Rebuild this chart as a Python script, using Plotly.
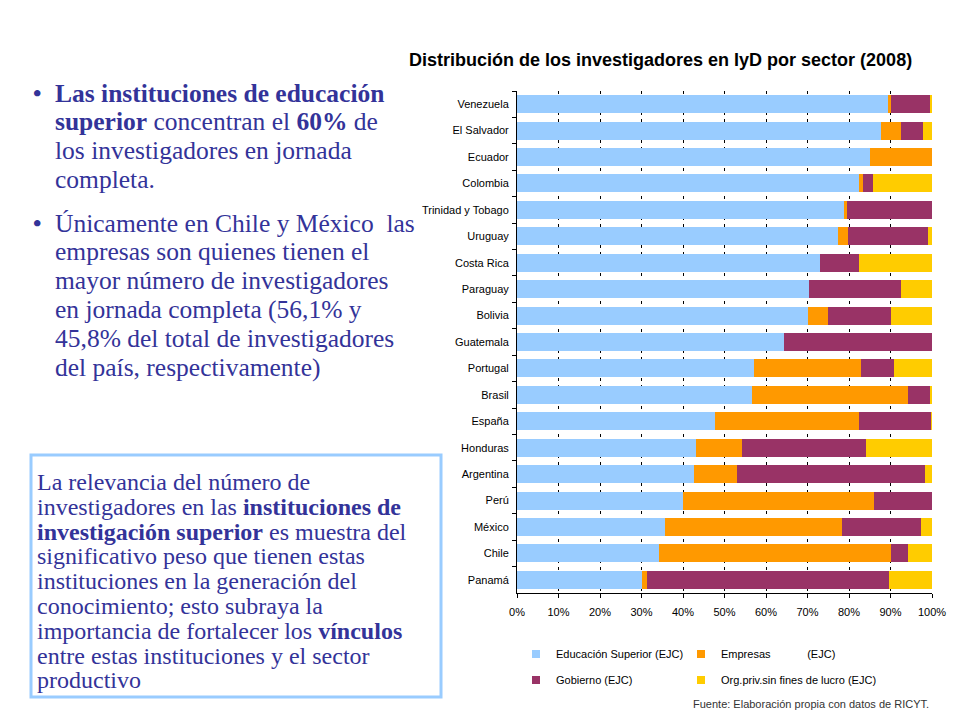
import plotly.graph_objects as go

# --- data (percent of researchers, 2008) ---
countries = [
    "Venezuela", "El Salvador", "Ecuador", "Colombia", "Trinidad y Tobago",
    "Uruguay", "Costa Rica", "Paraguay", "Bolivia", "Guatemala", "Portugal",
    "Brasil", "España", "Honduras", "Argentina", "Perú", "México", "Chile",
    "Panamá",
]
educacion = [89.4, 87.6, 85.1, 82.4, 78.9, 77.4, 72.9, 70.4, 70.0, 64.4, 57.2,
             56.7, 47.8, 43.2, 42.7, 40.1, 35.7, 34.1, 30.2]
empresas = [0.8, 5.0, 14.9, 1.0, 0.5, 2.4, 0.0, 0.0, 5.0, 0.0, 25.8,
            37.4, 34.7, 11.1, 10.4, 46.0, 42.5, 55.9, 1.2]
gobierno = [9.4, 5.2, 0.0, 2.4, 20.6, 19.3, 9.6, 22.2, 15.0, 35.6, 7.9,
            5.3, 17.3, 29.9, 45.1, 13.9, 19.2, 4.3, 58.3]
org_priv = [0.4, 2.2, 0.0, 14.2, 0.0, 0.9, 17.5, 7.4, 10.0, 0.0, 9.1,
            0.6, 0.2, 15.8, 1.8, 0.0, 2.6, 5.7, 10.3]

tick_vals = [0, 10, 20, 30, 40, 50, 60, 70, 80, 90, 100]
tick_text = ["0%", "10%", "20%", "30%", "40%", "50%", "60%", "70%", "80%", "90%", "100%"]

W, H = 960, 720
OX, OY = 8, 8  # page body margin the figure sits in
TXT = "#333399"
SERIF = "Liberation Serif, Times New Roman, serif"
SANS = "Liberation Sans, Arial, sans-serif"


def px(x):
    return (x - OX) / W


def py(y):
    # pixel from the top of the page -> paper fraction
    return 1 - (y - OY) / H


# name, values, colour, legend id, legend text position (px)
series = [
    ("Educación Superior (EJC)", educacion, "#99ccff", "legend", 556, 654),
    ("Empresas" + "\u00a0" * 12 + "(EJC)", empresas, "#ff9900", "legend2", 721, 654),
    ("Gobierno (EJC)", gobierno, "#993366", "legend3", 556, 680),
    ("Org.priv.sin fines de lucro (EJC)", org_priv, "#ffcc00", "legend4", 721, 680),
]

fig = go.Figure()
legends = {}
for name, vals, color, leg, lx, ly in series:
    fig.add_trace(go.Bar(
        y=countries, x=vals, name=name, orientation="h",
        marker=dict(color=color, line=dict(width=0)),
        showlegend=False,
    ))
    # small square legend swatch (the bar swatch is too big)
    fig.add_trace(go.Scatter(
        x=[None], y=[None], mode="markers", name=name, legend=leg,
        marker=dict(symbol="square", size=8, color=color),
    ))
    legends[leg] = dict(
        x=px(lx - 40), y=py(ly), xanchor="left", yanchor="middle",
        orientation="h", font=dict(family=SANS, size=11),
        bgcolor="rgba(0,0,0,0)", itemclick=False, itemsizing="trace",
    )

fig.update_layout(
    width=W, height=H,
    margin=dict(l=0, r=0, t=0, b=0, autoexpand=False),
    paper_bgcolor="white", plot_bgcolor="white",
    barmode="stack", bargap=0.32,
    font=dict(family=SANS, size=11, color="black"),
    xaxis=dict(
        domain=[px(517), px(932)], range=[0, 100],
        tickvals=tick_vals, ticktext=tick_text,
        showgrid=True, gridcolor="black", gridwidth=1, griddash="3px,4px",
        showline=True, linecolor="black", linewidth=1,
        ticks="outside", ticklen=4, tickcolor="black",
        ticklabelstandoff=5,
        zeroline=False, fixedrange=True,
        tickfont=dict(family=SANS, size=11),
    ),
    yaxis=dict(
        domain=[py(593), py(91)], autorange="reversed",
        showline=True, linecolor="black", linewidth=1,
        ticks="outside", ticklen=4, tickcolor="black", tickson="boundaries",
        ticklabelstandoff=5,
        showgrid=False, fixedrange=True,
        tickfont=dict(family=SANS, size=11),
    ),
    **legends,
)

# chart title and source
fig.add_annotation(
    text="<b>Distribución de los investigadores en IyD por sector (2008)</b>",
    x=px(660), y=py(60), xref="paper", yref="paper", showarrow=False,
    xanchor="center", yanchor="middle",
    font=dict(family=SANS, size=18, color="black"),
)
fig.add_annotation(
    text="Fuente: Elaboración propia con datos de RICYT.",
    x=px(931), y=py(704), xref="paper", yref="paper", showarrow=False,
    xanchor="right", yanchor="middle", font=dict(family=SANS, size=11, color="#333333"),
)

# bullet text on the left
bullet1 = [
    "<b>Las instituciones de educación</b>",
    "<b>superior</b> concentran el <b>60%</b> de",
    "los investigadores en jornada",
    "completa.",
]
bullet2 = [
    "Únicamente en Chile y México  las",
    "empresas son quienes tienen el",
    "mayor número de investigadores",
    "en jornada completa (56,1% y",
    "45,8% del total de investigadores",
    "del país, respectivamente)",
]


def add_lines(lines, x0, y0, step, size):
    for i, line in enumerate(lines):
        fig.add_annotation(
            text=line, x=px(x0), y=py(y0 + i * step), xref="paper", yref="paper",
            xanchor="left", yanchor="middle", showarrow=False,
            font=dict(family=SERIF, size=size, color=TXT),
        )


for yb in (93, 223):
    fig.add_annotation(
        text="<b>•</b>", x=px(31), y=py(yb), xref="paper", yref="paper",
        xanchor="left", yanchor="middle", showarrow=False,
        font=dict(family=SERIF, size=24, color=TXT),
    )
add_lines(bullet1, 53, 93, 28.7, 25.5)
add_lines(bullet2, 53, 223, 28.8, 25.5)

# boxed paragraph
box_lines = [
    "La relevancia del número de",
    "investigadores en las <b>instituciones de</b>",
    "<b>investigación superior</b> es muestra del",
    "significativo peso que tienen estas",
    "instituciones en la generación del",
    "conocimiento; esto subraya la",
    "importancia de fortalecer los <b>vínculos</b>",
    "entre estas instituciones y el sector",
    "productivo",
]
fig.add_shape(
    type="rect", xref="paper", yref="paper",
    x0=px(31), x1=px(441), y0=py(697), y1=py(455),
    line=dict(color="#99ccff", width=3), fillcolor="rgba(0,0,0,0)",
)
add_lines(box_lines, 35, 482, 24.8, 24)

fig.write_html("out.html")
